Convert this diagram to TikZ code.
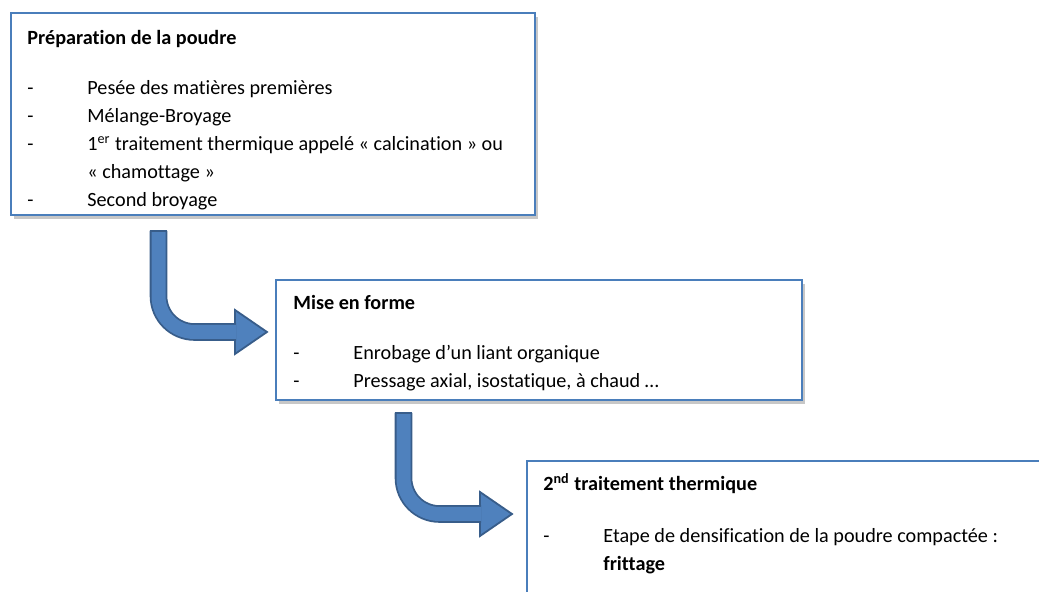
\documentclass[tikz,border=0pt]{standalone}
\usepackage{fontspec}
\setmainfont[Ligatures=NoCommon]{Carlito}
\usepackage{xcolor}
\definecolor{cMain}{HTML}{4A7EBB}
\definecolor{cFill}{HTML}{4F81BD}
\definecolor{cDark}{HTML}{385D8A}
\usepackage{tikz}
\usetikzlibrary{positioning,calc,shadows}
\tikzset{
  node-box/.style={draw=cMain,line width=0.8pt,fill=white,anchor=north west,
    inner sep=0pt,outer sep=0pt,
    drop shadow={shadow xshift=1.5pt,shadow yshift=-2pt,opacity=0.22,fill=black}},
  node-text/.style={anchor=base west,inner sep=0pt,font=\fontsize{10.1}{14}\selectfont},
  % corps de la flèche coudée : double trait, contour foncé
  arrow-body/.style={draw=cDark,line width=0.9pt,double=cFill,double distance=7pt,
    rounded corners=18pt},
  arrow-head/.style={draw=cDark,line width=0.9pt,fill=cFill,line join=miter},
  arrow-cap/.style={draw=cDark,line width=0.9pt},
}

\begin{document}
\begin{tikzpicture}[x=0.5pt,y=-0.5pt]
  \useasboundingbox (0,0) rectangle (1039,592);
  \clip (0,0) rectangle (1039,592);

  \node[node-box,minimum width=262pt,minimum height=101pt] at (11,13) (prep) {};
  \node[node-box,minimum width=263pt,minimum height=60pt] at (276,280) (forme) {};
  \node[node-box,minimum width=300pt,minimum height=100pt] at (527,461) (traite) {};

  \node[node-text] at ($(prep.north west)+(16,32)$) (prep-txt) {%
    \begin{tabular}[t]{@{}p{30pt}@{}l@{}}
      \multicolumn{2}{@{}l@{}}{\textbf{Préparation de la poudre}}\\[11pt]
      - & Pesée des matières premières\\
      - & Mélange-Broyage\\
      - & 1\textsuperscript{er} traitement thermique appelé « calcination » ou\\
        & « chamottage »\\
      - & Second broyage
    \end{tabular}};
  \node[node-text] at ($(forme.north west)+(17,30)$) (forme-txt) {%
    \begin{tabular}[t]{@{}p{30pt}@{}l@{}}
      \multicolumn{2}{@{}l@{}}{\textbf{Mise en forme}}\\[11pt]
      - & Enrobage d’un liant organique\\
      - & Pressage axial, isostatique, à chaud …
    \end{tabular}};
  \node[node-text] at ($(traite.north west)+(16,30)$) (traite-txt) {%
    \begin{tabular}[t]{@{}p{30pt}@{}l@{}}
      \multicolumn{2}{@{}l@{}}{\textbf{2\textsuperscript{nd} traitement thermique}}\\[12pt]
      - & Etape de densification de la poudre compactée :\\
        & \textbf{frittage}
    \end{tabular}};

  \foreach \src/\sx/\sy/\dst/\dx/\dy in {prep/147.5/16/forme/-9/52, forme/127.5/13/traite/-15/53} {
    \coordinate (\src-out) at ($(\src.south west)+(\sx,\sy)$);
    \coordinate (\dst-in) at ($(\dst.north west)+(\dx,\dy)$);
    \draw[arrow-head] ($(\dst-in)+(-32,-22)$) -- (\dst-in) -- ($(\dst-in)+(-32,22)$) -- cycle;
    \draw[arrow-body] (\src-out) |- ($(\dst-in)+(-31,0)$);
    \draw[arrow-cap] ($(\src-out)+(-8.8,0)$) -- ($(\src-out)+(8.8,0)$);
  }
\end{tikzpicture}
\end{document}
